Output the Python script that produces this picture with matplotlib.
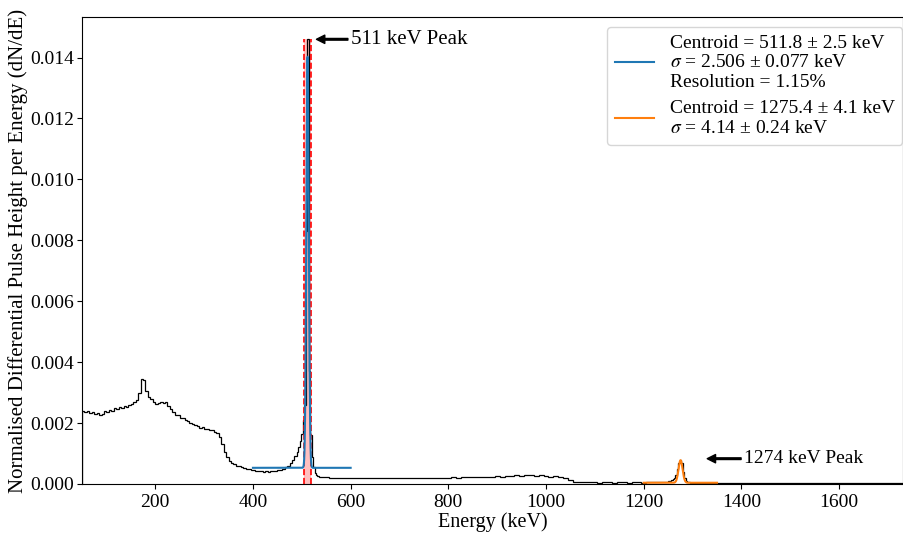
import numpy as np
import matplotlib
matplotlib.use('Agg')
import matplotlib.pyplot as plt

plt.rcParams['font.family'] = ['Liberation Serif', 'DejaVu Serif']
plt.rcParams['mathtext.fontset'] = 'stix'
plt.rcParams['font.size'] = 14

# spectrum, segments of (first edge, bin width, values)
seg_a_start, seg_a_width = 50, 5
seg_a = [0.00240, 0.00236, 0.00238, 0.00233, 0.00235, 0.00231, 0.00233, 0.00227,
         0.00230, 0.00238, 0.00235, 0.00243, 0.00240, 0.00248, 0.00245, 0.00252,
         0.00249, 0.00256, 0.00252, 0.00258, 0.00262, 0.00268, 0.00275, 0.00300,
         0.00345, 0.00340, 0.00305, 0.00285, 0.00278, 0.00270, 0.00262, 0.00265,
         0.00270, 0.00265, 0.00268, 0.00255, 0.00245, 0.00235, 0.00228, 0.00225,
         0.00218, 0.00215, 0.00210, 0.00206, 0.00200, 0.00198, 0.00192, 0.00190,
         0.00185, 0.00188, 0.00180, 0.00182, 0.00178, 0.00176, 0.00172, 0.00168,
         0.00155, 0.00130, 0.00105, 0.00088, 0.00076, 0.00068, 0.00064, 0.00060,
         0.00058, 0.00055, 0.00052, 0.00050, 0.00049, 0.00047, 0.00046, 0.00044,
         0.00042, 0.00041, 0.00040, 0.00041, 0.00039, 0.00041, 0.00042, 0.00043,
         0.00045, 0.00047, 0.00050, 0.00055, 0.00060, 0.00068, 0.00078, 0.00092]
seg_b_width = 3
seg_b = [0.00105, 0.00120, 0.00140, 0.00165, 0.00210, 0.00260, 0.00830, 0.01460,
         0.00370, 0.00160, 0.00090, 0.00055, 0.00035, 0.00028, 0.00025]
seg_c_width = 10
seg_c = [0.00024, 0.00022, 0.00021, 0.00020, 0.00021, 0.00019, 0.00020, 0.00019,
         0.00020, 0.00019, 0.00018, 0.00019, 0.00020, 0.00019, 0.00019, 0.00020,
         0.00019, 0.00020, 0.00020, 0.00019, 0.00020, 0.00021, 0.00020, 0.00021,
         0.00020, 0.00021, 0.00021, 0.00022, 0.00021, 0.00022, 0.00023, 0.00022,
         0.00023, 0.00024, 0.00023, 0.00024, 0.00025, 0.00024, 0.00026, 0.00027,
         0.00029, 0.00027, 0.00030, 0.00028, 0.00027, 0.00029, 0.00026, 0.00024,
         0.00025, 0.00024, 0.00018, 0.00012, 0.00008, 0.00006, 0.00005, 0.00005,
         0.00005, 0.00004, 0.00005, 0.00005, 0.00004, 0.00005, 0.00005, 0.00004,
         0.00005, 0.00005, 0.00004, 0.00005, 0.00005, 0.00005]
seg_d_width = 3
seg_d = [0.00005, 0.00006, 0.00005, 0.00007, 0.00008, 0.00009, 0.00011, 0.00013,
         0.00016, 0.00020, 0.00030, 0.00048, 0.00070, 0.00080, 0.00068, 0.00040,
         0.00020, 0.00010, 0.00006, 0.00005, 0.00004, 0.00004, 0.00003, 0.00004,
         0.00003, 0.00003, 0.00003, 0.00003]
seg_e_width = 10
seg_e = [0.00003, 0.00002, 0.00003, 0.00003, 0.00002, 0.00003, 0.00002, 0.00003,
         0.00002, 0.00002, 0.00003, 0.00002, 0.00002, 0.00003, 0.00002, 0.00002,
         0.00002, 0.00003, 0.00002, 0.00002, 0.00002, 0.00002, 0.00003, 0.00002,
         0.00002, 0.00002, 0.00002, 0.00002, 0.00003, 0.00002, 0.00002, 0.00002,
         0.00002, 0.00002, 0.00002, 0.00002, 0.00002, 0.00002, 0.00002, 0.00002,
         0.00002, 0.00002]

# fit results
peak1 = dict(mu=511.8, sigma=2.506, amp=0.0135, base=0.00053, lo=400, hi=600)
peak2 = dict(mu=1275.4, sigma=4.14, amp=0.00074, base=0.00004, lo=1200, hi=1350)
label1 = ('Centroid = 511.8 ± 2.5 keV\n$\\sigma$ = 2.506 ± 0.077 keV\n'
          'Resolution = 1.15%')
label2 = 'Centroid = 1275.4 ± 4.1 keV\n$\\sigma$ = 4.14 ± 0.24 keV'
window = (504.3, 519.3)
window_top = 0.0146


def build_edges():
    edges = [seg_a_start]
    for vals, w in [(seg_a, seg_a_width), (seg_b, seg_b_width), (seg_c, seg_c_width),
                    (seg_d, seg_d_width), (seg_e, seg_e_width)]:
        for _ in vals:
            edges.append(edges[-1] + w)
    return np.array(edges, dtype=float)


def gauss(x, p):
    return p['base'] + p['amp'] * np.exp(-(x - p['mu'])**2 / (2 * p['sigma']**2))


edges = build_edges()
counts = np.array(seg_a + seg_b + seg_c + seg_d + seg_e)

fig = plt.figure(figsize=(9.04, 5.33), dpi=100)
ax = fig.add_subplot(111)
fig.subplots_adjust(left=0.0907, right=0.999, top=0.968, bottom=0.092)

ax.fill_betweenx([0, window_top], window[0], window[1], color='red', alpha=0.25, lw=0)
ax.vlines(window, 0, window_top, colors='red', linestyles='--', lw=1.2)
ax.stairs(counts, edges, color='black', lw=0.9)

x1 = np.linspace(peak1['lo'], peak1['hi'], 2000)
x2 = np.linspace(peak2['lo'], peak2['hi'], 2000)
ax.plot(x1, gauss(x1, peak1), color='#1f77b4', label=label1)
ax.plot(x2, gauss(x2, peak2), color='#ff7f0e', label=label2)

arrow = dict(facecolor='black', edgecolor='black', width=1.2, headwidth=6, headlength=6)
ax.annotate('511 keV Peak', xy=(530, 0.0146), xytext=(600, 0.0146), va='center',
            fontsize=15, arrowprops=arrow)
ax.annotate('1274 keV Peak', xy=(1330, 0.00083), xytext=(1405, 0.00083), va='center',
            arrowprops=arrow)

ax.set_xlim(50, 1731)
ax.set_ylim(0, 0.01533)
ax.tick_params(axis='y', pad=2)
ax.set_xlabel('Energy (keV)', fontsize=14.5, labelpad=1)
ax.set_ylabel('Normalised Differential Pulse Height per Energy (dN/dE)', fontsize=15,
              labelpad=2)
ax.legend(loc='upper right', bbox_to_anchor=(1.011, 1.0))

fig.savefig('out.png', dpi=100)
